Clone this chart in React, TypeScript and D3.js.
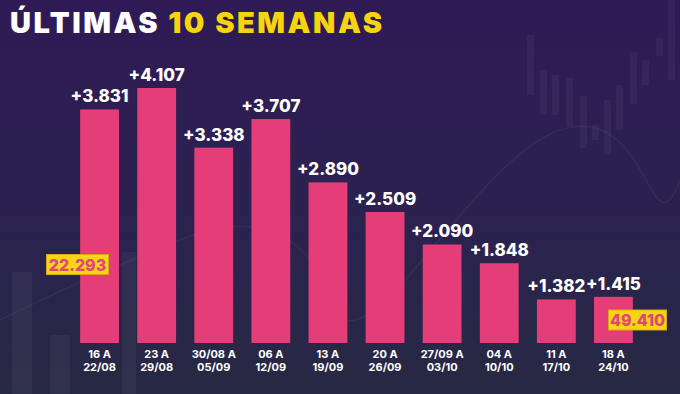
import React, { useRef, useEffect } from 'react';
import * as d3 from 'd3';

// dados
const weeksTop = ['16 A', '23 A', '30/08 A', '06 A', '13 A', '20 A', '27/09 A', '04 A', '11 A', '18 A'];
const weeksBottom = ['22/08', '29/08', '05/09', '12/09', '19/09', '26/09', '03/10', '10/10', '17/10', '24/10'];
const gains = [3831, 4107, 3338, 3707, 2890, 2509, 2090, 1848, 1382, 1415];
const totals = ['22.293', '49.410'];

const fmt = (v: number) => '+' + d3.format(',')(v).replace(/,/g, '.');

export default function App() {
  const svgRef = useRef<SVGSVGElement>(null);

  useEffect(() => {
    const width = 680;
    const height = 394;
    const base = 343;
    const font = 'Inter, "Open Sans", sans-serif';

    const svg = d3.select(svgRef.current);
    svg.selectAll('*').remove();
    svg.attr('width', width).attr('height', height);

    const defs = svg.append('defs');
    const grad = defs.append('linearGradient')
      .attr('id', 'bg').attr('x1', 0).attr('y1', 0).attr('x2', 0).attr('y2', 1);
    grad.append('stop').attr('offset', '0%').attr('stop-color', '#2f1a55');
    grad.append('stop').attr('offset', '55%').attr('stop-color', '#2b2250');
    grad.append('stop').attr('offset', '100%').attr('stop-color', '#272943');

    svg.append('rect').attr('width', width).attr('height', height).attr('fill', 'url(#bg)');

    // decoração de fundo (velas discretas)
    const deco = svg.append('g').attr('opacity', 0.04).attr('fill', '#ffffff');
    const candles = [[527, 35, 60], [540, 70, 45], [552, 75, 40], [566, 78, 48], [580, 96, 52], [592, 125, 15], [604, 100, 55], [616, 85, 45], [630, 52, 52], [642, 60, 25], [656, 38, 18], [668, 0, 80]];
    candles.forEach(([x, y, h]) => deco.append('rect').attr('x', x).attr('y', y).attr('width', 7).attr('height', h));
    const backBars = [[12, 272, 20, 122], [50, 335, 20, 59], [122, 252, 14, 142]];
    backBars.forEach(([x, y, w, h]) => deco.append('rect').attr('x', x).attr('y', y).attr('width', w).attr('height', h));
    svg.append('path')
      .attr('d', 'M0,320 C60,290 130,260 180,240 S300,210 330,300 S470,160 560,130 S650,260 680,180')
      .attr('fill', 'none').attr('stroke', '#ffffff').attr('stroke-opacity', 0.05).attr('stroke-width', 1.5);

    // título
    const title = svg.append('text')
      .attr('x', 10).attr('y', 33)
      .style('font-family', font)
      .style('font-weight', 900)
      .style('font-size', '29px')
      .style('letter-spacing', '2.5px');
    title.append('tspan').attr('fill', '#ffffff').text('ÚLTIMAS ');
    title.append('tspan').attr('fill', '#f6d40f').text('10 SEMANAS');

    const x = d3.scaleBand<number>()
      .domain(d3.range(gains.length))
      .range([71, 642])
      .paddingInner(0.32)
      .paddingOuter(0.16);

    const y = d3.scaleLinear()
      .domain([820, 4107])
      .range([base, 88]);

    const g = svg.append('g');
    const cx = (i: number) => x(i)! + x.bandwidth() / 2;

    g.selectAll('rect.bar')
      .data(gains)
      .join('rect')
      .attr('class', 'bar')
      .attr('x', (d, i) => x(i)!)
      .attr('y', d => y(d))
      .attr('width', x.bandwidth())
      .attr('height', d => base - y(d))
      .attr('fill', '#e53d78');

    g.selectAll('text.val')
      .data(gains)
      .join('text')
      .attr('class', 'val')
      .attr('x', (d, i) => cx(i))
      .attr('y', d => y(d) - 7)
      .attr('text-anchor', 'middle')
      .attr('fill', '#ffffff')
      .style('font-family', font)
      .style('font-weight', 800)
      .style('font-size', '17px')
      .text(d => fmt(d));

    const catStyle = (sel: any) => sel
      .attr('text-anchor', 'middle')
      .attr('fill', '#ffffff')
      .style('font-family', font)
      .style('font-weight', 700)
      .style('font-size', '11px');

    g.selectAll('text.cat1')
      .data(weeksTop)
      .join('text')
      .attr('class', 'cat1')
      .attr('x', (d, i) => cx(i))
      .attr('y', 358)
      .call(catStyle)
      .text(d => d);

    g.selectAll('text.cat2')
      .data(weeksBottom)
      .join('text')
      .attr('class', 'cat2')
      .attr('x', (d, i) => cx(i))
      .attr('y', 371)
      .call(catStyle)
      .text(d => d);

    // caixas com os totais
    const boxes = [
      { label: totals[0], cx: 77.5, cy: 264.5, w: 62 },
      { label: totals[1], cx: 637.5, cy: 320, w: 58 },
    ];
    boxes.forEach(b => {
      svg.append('rect')
        .attr('x', b.cx - b.w / 2).attr('y', b.cy - 10)
        .attr('width', b.w).attr('height', 20)
        .attr('fill', '#f7d416')
        .attr('stroke', '#d9a81a').attr('stroke-width', 1);
      svg.append('text')
        .attr('x', b.cx).attr('y', b.cy + 6)
        .attr('text-anchor', 'middle')
        .attr('fill', '#e2457a')
        .style('font-family', font)
        .style('font-weight', 800)
        .style('font-size', '16px')
        .text(b.label);
    });
  }, []);

  return (
    <div style={{ position: 'fixed', left: 0, top: 0 }}>
      <svg ref={svgRef} style={{ display: 'block' }}></svg>
    </div>
  );
}
